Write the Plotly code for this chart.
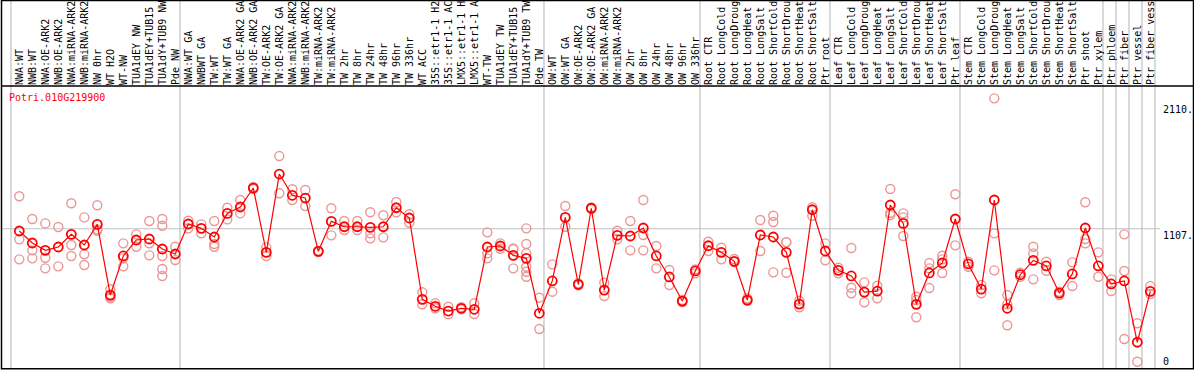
import plotly.graph_objects as go

W, H = 1194, 370

labels = [
    "NWA:WT", "NWB:WT", "NWA:OE-ARK2", "NWB:OE-ARK2", "NWA:miRNA-ARK2", "NWB:miRNA-ARK2",
    "NW 0hr", "WT H2O", "WT-NW", "TUA1dEY NW", "TUA1dEY+TUB15 NW", "TUA1dY+TUB9 NW", "Pde NW",
    "NWA:WT GA", "NWBWT GA", "TW:WT", "TW:WT GA", "NWA:OE-ARK2 GA", "NWB:OE-ARK2 GA",
    "TW:OE-ARK2", "TW:OE-ARK2 GA", "NWA:miRNA-ARK2 GA", "NWB:miRNA-ARK2 GA", "TW:miRNA-ARK2",
    "TW:miRNA-ARK2 GA", "TW 2hr", "TW 8hr", "TW 24hr", "TW 48hr", "TW 96hr", "TW 336hr", "WT ACC",
    "35S::etr1-1 H2O", "35S::etr1-1 ACC", "LMX5::etr1-1 H2O", "LMX5::etr1-1 ACC", "WT-TW",
    "TUA1dEY TW", "TUA1dEY+TUB15 TW", "TUA1dY+TUB9 TW", "Pde TW",
    "OW:WT", "OW:WT GA", "OW:OE-ARK2", "OW:OE-ARK2 GA", "OW:miRNA-ARK2", "OW:miRNA-ARK2 GA",
    "OW 2hr", "OW 8hr", "OW 24hr", "OW 48hr", "OW 96hr", "OW 336hr",
    "Root CTR", "Root LongCold", "Root LongDrought", "Root LongHeat", "Root LongSalt",
    "Root ShortCold", "Root ShortDrought", "Root ShortHeat", "Root ShortSalt", "Ptr root",
    "Leaf CTR", "Leaf LongCold", "Leaf LongDrought", "Leaf LongHeat", "Leaf LongSalt",
    "Leaf ShortCold", "Leaf ShortDrought", "Leaf ShortHeat", "Leaf ShortSalt", "Ptr leaf",
    "Stem CTR", "Stem LongCold", "Stem LongDrought", "Stem LongHeat", "Stem LongSalt",
    "Stem ShortCold", "Stem ShortDrought", "Stem ShortHeat", "Stem ShortSalt", "Ptr shoot",
    "Ptr xylem", "Ptr phloem", "Ptr fiber", "Ptr vessel", "Ptr fiber vessel",
]

means = [
    1089, 993, 934, 961, 1062, 977, 1142, 576, 889, 1017, 1025, 945, 905,
    1145, 1110, 1041, 1230, 1281, 1433, 918, 1545, 1375, 1353, 926, 1166, 1123, 1123,
    1118, 1123, 1275, 1193, 542, 486, 448, 470, 462, 961, 969, 894, 870, 430,
    689, 1198, 662, 1271, 616, 1054, 1049, 1113, 889, 721, 528, 769,
    971, 918, 846, 536, 1057, 1041, 918, 504, 1259, 929,
    774, 729, 600, 608, 1297, 1150, 502, 753, 833, 1185,
    825, 624, 1337, 470, 739, 854, 809, 592, 745, 1113, 809,
    665, 689, 198, 606,
]

replicates = [
    [1367, 1022, 862], [1185, 934, 870], [1150, 875, 790], [1121, 806], [1311, 977, 889],
    [1198, 902, 817], [1295, 1102, 1091], [622, 563, 550], [990, 870, 806], [1062, 963, 1017],
    [1169, 990, 894], [1185, 1131, 889, 785, 729], [963, 857],
    [1171, 1110], [1142, 1070], [1169, 985, 963], [1275, 1182], [1337, 1230], [1425, 1441],
    [958, 889], [1689, 1391], [1423, 1337], [1417, 1289], [920, 932], [1271, 1054],
    [1169, 1097], [1169, 1097], [1239, 1070, 1030], [1215, 1038], [1321, 1239], [1223, 1155],
    [598, 502], [510, 470], [483, 422], [478, 462], [510, 424], [1078, 910, 870], [990, 947],
    [950, 942, 790], [1110, 985, 910, 803, 763, 723], [555, 304],
    [822, 603], [1289, 1123], [655, 670], [1265, 1277], [675, 568], [1091, 1022], [1169, 934],
    [1337, 1057, 934], [969, 790], [777, 656], [520, 536], [782, 750],
    [1003, 929], [955, 862], [865, 841], [550, 531], [1177, 929], [1211, 1161, 758],
    [998, 1000, 755], [531, 478], [1279, 1211], [990, 854],
    [795, 750], [953, 635, 590], [678, 518], [651, 550], [1425, 1235, 1217], [1230, 1198, 1049],
    [563, 536, 398], [833, 790, 632], [891, 862, 753], [1383, 974],
    [843, 803], [656, 590], [2151, 1070, 774], [576, 502, 334], [755, 723], [963, 910, 702],
    [843, 771], [603, 576], [838, 648], [1319, 1025, 990], [918, 723],
    [702, 608], [1062, 769, 224], [350, 42], [648, 584],
]

group_ends = [-1, 12, 40, 52, 62, 72, 83, 84, 85, 86, 87]
ref_value = 1107
tick_texts = [("2110.", 2110), ("1107.", 1107)]
title_text = "Potri.010G219900"
label_chars = 14  # the header only has room for this many characters

# ---- layout geometry (pixels) ----
x0_px, dx_px = 19.3, 13.0
plot_top_px, plot_bot_px = 86, 368
y_lo, y_hi = -8, 2250

def px_to_paper_x(p):
    return p / W

def px_to_paper_y(p):
    return (H - p) / H

x_range = [(0 - x0_px) / dx_px, (W - x0_px) / dx_px]

rep_x, rep_y = [], []
for i, reps in enumerate(replicates):
    for v in reps:
        rep_x.append(i)
        rep_y.append(v)

xs = list(range(len(labels)))
shown_labels = [l[:label_chars] for l in labels]

fig = go.Figure()
fig.add_trace(go.Scatter(
    x=rep_x, y=rep_y, mode="markers",
    marker=dict(symbol="circle-open", size=9, color="rgb(236,150,150)",
                line=dict(width=1.4, color="rgb(236,150,150)")),
    hoverinfo="skip", showlegend=False,
))
fig.add_trace(go.Scatter(
    x=xs, y=means, mode="lines+markers",
    line=dict(color="#ff0000", width=1.2),
    marker=dict(symbol="circle-open", size=9, color="#ff0000",
                line=dict(width=1.8, color="#ff0000")),
    showlegend=False,
))

shapes = []
for g in group_ends:
    xv = g + 0.36
    shapes.append(dict(type="line", xref="x", yref="paper", x0=xv, x1=xv,
                       y0=px_to_paper_y(plot_bot_px), y1=1,
                       line=dict(color="#c0c0c0", width=1.2), layer="below"))
shapes.append(dict(type="line", xref="paper", yref="y", x0=px_to_paper_x(1), x1=px_to_paper_x(1160),
                   y0=ref_value, y1=ref_value, line=dict(color="#c0c0c0", width=1.2), layer="below"))
shapes.append(dict(type="rect", xref="paper", yref="paper",
                   x0=px_to_paper_x(1.5), x1=px_to_paper_x(1193.5),
                   y0=px_to_paper_y(368.7), y1=px_to_paper_y(0.5),
                   line=dict(color="black", width=1.5)))
shapes.append(dict(type="line", xref="paper", yref="paper",
                   x0=px_to_paper_x(1.5), x1=px_to_paper_x(1193.5),
                   y0=px_to_paper_y(86), y1=px_to_paper_y(86),
                   line=dict(color="black", width=1.5)))

mono = "DejaVu Sans Mono"
annotations = [dict(text=title_text, xref="paper", yref="paper",
                    x=px_to_paper_x(8), y=px_to_paper_y(91), xanchor="left", yanchor="top",
                    showarrow=False, font=dict(family=mono, size=10, color="#ff0000"), borderpad=0)]
for txt, v in tick_texts:
    annotations.append(dict(text=txt, xref="paper", yref="y", x=px_to_paper_x(1162), y=v,
                            xanchor="left", yanchor="top", showarrow=False,
                            font=dict(family=mono, size=10, color="black"), borderpad=0))
annotations.append(dict(text="0", xref="paper", yref="y", x=px_to_paper_x(1162), y=y_lo,
                        xanchor="left", yanchor="bottom", showarrow=False,
                        font=dict(family=mono, size=10, color="black"), borderpad=0))

fig.update_layout(
    width=W, height=H, margin=dict(l=0, r=0, t=0, b=0, autoexpand=False),
    paper_bgcolor="white", plot_bgcolor="white",
    xaxis=dict(range=x_range, tickvals=xs, ticktext=shown_labels, side="top", tickangle=-90,
               showgrid=False, zeroline=False, showline=False, ticks="", automargin=False,
               tickfont=dict(family=mono, size=10, color="black"), anchor="y"),
    yaxis=dict(range=[y_lo, y_hi], domain=[px_to_paper_y(plot_bot_px), px_to_paper_y(plot_top_px)],
               showticklabels=False, showgrid=False, zeroline=False, showline=False, automargin=False),
    shapes=shapes, annotations=annotations,
)

fig.write_html("out.html", config={"displayModeBar": False},
               post_script="document.body.style.margin='0';document.body.style.overflow='hidden';")
